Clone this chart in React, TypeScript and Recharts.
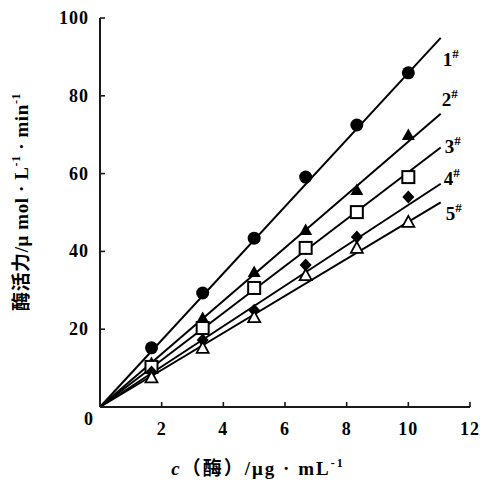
import { ComposedChart, LabelList, Line, Scatter, XAxis, YAxis } from "recharts"

const concentrations = [1.67, 3.33, 5, 6.67, 8.33, 10]
const series1 = [15.2, 29.3, 43.4, 59.1, 72.5, 85.9]
const series2 = [11.3, 22.9, 34.7, 45.5, 55.8, 69.9]
const series3 = [10.3, 20.3, 30.6, 40.9, 50.1, 59.1]
const series4 = [9.0, 17.2, 24.9, 36.5, 43.7, 54.0]
const series5 = [7.6, 15.2, 23.1, 33.9, 40.9, 47.6]
const fitEndX = 11.05
const fitEndY = [94.9, 75.4, 66.7, 57.4, 52.6]
const seriesNames = ["1", "2", "3", "4", "5"]
const xTicks = [2, 4, 6, 8, 10, 12]
const yTicks = [0, 20, 40, 60, 80, 100]

const allSeries = [series1, series2, series3, series4, series5]
const labelOffsets = [
  { dx: 2, dy: 28 },
  { dx: 1, dy: -8 },
  { dx: 4, dy: 5 },
  { dx: 3, dy: 1 },
  { dx: 5, dy: 18 },
]

const FONT = "'Liberation Serif', 'Times New Roman', 'Noto Sans CJK SC', serif"
const AXIS_COLOR = "#1a1a1a"

const points = (ys: number[]) => concentrations.map((x, i) => ({ x, y: ys[i] }))
const fitLine = (k: number) => [
  { x: 0, y: 0 },
  { x: fitEndX, y: fitEndY[k] },
]

const Circle = ({ cx, cy }: any) => <circle cx={cx} cy={cy} r={6.5} fill="#000" />
const FilledTriangle = ({ cx, cy }: any) => (
  <path d={`M${cx},${cy - 6.5} L${cx + 6.5},${cy + 5} L${cx - 6.5},${cy + 5} Z`} fill="#000" />
)
const OpenSquare = ({ cx, cy }: any) => (
  <rect x={cx - 6} y={cy - 6} width={12} height={12} fill="#fff" stroke="#000" strokeWidth={2} />
)
const Diamond = ({ cx, cy }: any) => (
  <path d={`M${cx},${cy - 6.5} L${cx + 6},${cy} L${cx},${cy + 6.5} L${cx - 6},${cy} Z`} fill="#000" />
)
const OpenTriangle = ({ cx, cy }: any) => (
  <path
    d={`M${cx},${cy - 6} L${cx + 6},${cy + 5} L${cx - 6},${cy + 5} Z`}
    fill="#fff"
    stroke="#000"
    strokeWidth={1.8}
  />
)
const shapes = [Circle, FilledTriangle, OpenSquare, Diamond, OpenTriangle]

// tickSize and tickMargin are 0, so x/y here sit on the axis line; ticks point inward
const XTick = ({ x, y, payload }: any) => (
  <g>
    <rect x={x - 0.8} y={y - 5} width={1.6} height={5} fill={AXIS_COLOR} />
    <text
      x={x}
      y={y + 28}
      textAnchor="middle"
      fontFamily={FONT}
      fontWeight="bold"
      fontSize={18}
      letterSpacing={1}
      fill="#000"
    >
      {payload.value}
    </text>
  </g>
)

const YTick = ({ x, y, payload }: any) => {
  const zero = payload.value === 0
  return (
    <g>
      {!zero && <rect x={x} y={y - 0.8} width={5} height={1.6} fill={AXIS_COLOR} />}
      <text
        x={zero ? x - 6 : x - 11}
        y={y + (zero ? 18 : 6)}
        textAnchor="end"
        fontFamily={FONT}
        fontWeight="bold"
        fontSize={18}
        letterSpacing={1}
        fill="#000"
      >
        {payload.value}
      </text>
    </g>
  )
}

const seriesLabel = (k: number) => (props: any) => {
  if (props.index !== 1) return null
  const { dx, dy } = labelOffsets[k]
  return (
    <text x={props.x + dx} y={props.y + dy} fontFamily={FONT} fontWeight="bold" fontSize={19} fill="#000">
      {seriesNames[k]}
      <tspan dy={-8} fontSize={13}>
        #
      </tspan>
    </text>
  )
}

const YTitle = () => (
  <text
    transform="translate(28,202) rotate(-90)"
    textAnchor="middle"
    fontFamily={FONT}
    fontWeight="bold"
    fontSize={19}
    letterSpacing={0.6}
    fill="#000"
  >
    酶活力/μ mol · L
    <tspan dy={-8} fontSize={12}>
      -1
    </tspan>
    <tspan dy={8}> · min</tspan>
    <tspan dy={-8} fontSize={12}>
      -1
    </tspan>
  </text>
)

const XTitle = () => (
  <text
    x={258}
    y={475}
    textAnchor="middle"
    fontFamily={FONT}
    fontWeight="bold"
    fontSize={19}
    letterSpacing={2}
    fill="#000"
  >
    <tspan fontStyle="italic">c</tspan>（酶）/μg · mL
    <tspan dy={-8} fontSize={12}>
      -1
    </tspan>
  </text>
)

export default function App() {
  return (
    <div style={{ position: "absolute", left: 0, top: 0, width: 482, height: 482, background: "#fff" }}>
      <ComposedChart width={482} height={482} margin={{ top: 18, right: 12, bottom: 45, left: 30 }}>
        <XAxis
          type="number"
          dataKey="x"
          height={30}
          domain={[0, 12]}
          ticks={xTicks}
          tickSize={0}
          tickMargin={0}
          axisLine={{ stroke: AXIS_COLOR, strokeWidth: 2 }}
          tickLine={false}
          tick={<XTick />}
          label={{ content: () => <XTitle /> }}
        />
        <YAxis
          type="number"
          dataKey="y"
          width={70}
          domain={[0, 100]}
          ticks={yTicks}
          tickSize={0}
          tickMargin={0}
          axisLine={{ stroke: AXIS_COLOR, strokeWidth: 2 }}
          tickLine={false}
          tick={<YTick />}
          label={{ content: () => <YTitle /> }}
        />
        {allSeries.map((_, k) => (
          <Line
            key={`fit${k}`}
            data={fitLine(k)}
            dataKey="y"
            type="linear"
            stroke="#000"
            strokeWidth={2}
            dot={false}
            activeDot={false}
            isAnimationActive={false}
          >
            <LabelList dataKey="y" content={seriesLabel(k)} />
          </Line>
        ))}
        {allSeries.map((ys, k) => (
          <Scatter key={`pts${k}`} data={points(ys)} dataKey="y" shape={shapes[k]} isAnimationActive={false} />
        ))}
      </ComposedChart>
    </div>
  )
}
